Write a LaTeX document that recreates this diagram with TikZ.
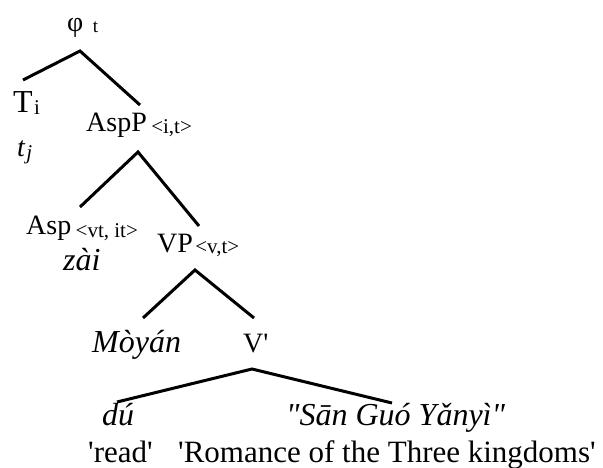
\documentclass[tikz,border=0pt]{standalone}
\usepackage{fontspec}
\setmainfont{Liberation Serif}[Ligatures=TeXOff]
\usepackage{tikz}
\usetikzlibrary{positioning}
\newcommand{\bigsz}{\fontsize{28}{30}\selectfont}
\newcommand{\wordsz}{\fontsize{32}{34}\selectfont}
\newcommand{\glosssz}{\fontsize{31}{33}\selectfont}
\newcommand{\subsz}{\fontsize{21}{23}\selectfont}
\tikzset{
  branch/.style={line width=3pt},
  lbl/.style={anchor=base west,inner sep=0pt,font=\bigsz},
  obj/.style={lbl,font=\wordsz\itshape},
  gloss/.style={lbl,font=\glosssz},
  sub/.style={anchor=base west,inner sep=0pt,font=\subsz},
}

\begin{document}
\begin{tikzpicture}[x=1pt,y=-1pt]
    \useasboundingbox (0,0) rectangle (603,468);
    % --- root ---
    \node[lbl] (phi) at (67,32) {φ};
    \node[sub,font=\fontsize{19}{21}\selectfont] (phit) at ([shift={(9,1)}]phi.base east) {t};
    \coordinate (r0) at (80,51);
    \coordinate (r0l) at (23,80);
    \coordinate (r0r) at (140,105);
    \draw[branch] (r0l) -- (r0) -- (r0r);
    % --- tense ---
    \node[lbl,font=\fontsize{32}{34}\selectfont] (tns) at (13,113) {T};
    \node[sub] (tnsi) at ([shift={(1,2)}]tns.base east) {i};
    \node[obj,font=\bigsz\itshape] (tj) at (17,157) {t};
    \node[sub,font=\subsz\itshape] (tjj) at ([shift={(1,3)}]tj.base east) {j};
    % --- aspect phrase ---
    \node[lbl] (aspp) at (86,132) {AspP};
    \node[sub] (asppt) at ([shift={(4,2)}]aspp.base east) {<i,t>};
    \coordinate (r1) at (138,152);
    \coordinate (r1l) at (80,207);
    \coordinate (r1r) at (199,226);
    \draw[branch] (r1l) -- (r1) -- (r1r);
    \node[lbl] (asp) at (26,235) {Asp};
    \node[sub] (aspt) at ([shift={(4,2)}]asp.base east) {<vt, it>};
    \node[obj] (zai) at (63,270) {zài};
    % --- verb phrase ---
    \node[lbl] (vp) at (157,252) {VP};
    \node[sub] (vpt) at ([shift={(2,1)}]vp.base east) {<v,t>};
    \coordinate (r2) at (195,270);
    \coordinate (r2l) at (143,318);
    \coordinate (r2r) at (254,318);
    \draw[branch] (r2l) -- (r2) -- (r2r);
    \node[obj] (moyan) at (92,352) {Mòyán};
    \node[lbl] (vbar) at (243,352) {V'};
    % --- verb and object ---
    \coordinate (r3) at (252,369);
    \coordinate (r3l) at (117,402);
    \coordinate (r3r) at (392,403);
    \draw[branch] (r3l) -- (r3) -- (r3r);
    \node[obj] (du) at (102,425) {dú};
    \node[obj] (sgy) at (286,425) {"Sān Guó Yǎnyì"};
    \node[gloss] (read) at (88,462) {'read'};
    \node[gloss] (rtk) at (178,462) {'Romance of the Three kingdoms'};
\end{tikzpicture}
\end{document}
